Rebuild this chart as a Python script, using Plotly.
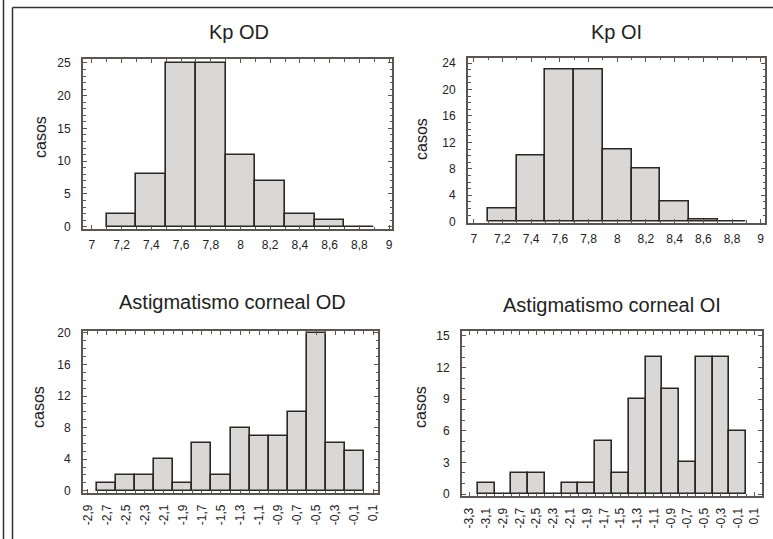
import plotly.graph_objects as go

# ---------------- data ----------------
kp_centers = [7.2, 7.4, 7.6, 7.8, 8.0, 8.2, 8.4, 8.6, 8.8]
kp_od = [2, 8, 25, 25, 11, 7, 2, 1, 0]
kp_oi = [2, 10, 23, 23, 11, 8, 3, 0.3, 0]

kp_tickvals = [7.0, 7.2, 7.4, 7.6, 7.8, 8.0, 8.2, 8.4, 8.6, 8.8, 9.0]
kp_ticktext = ["7", "7,2", "7,4", "7,6", "7,8", "8", "8,2", "8,4", "8,6", "8,8", "9"]

ast_od_centers = [-2.7, -2.5, -2.3, -2.1, -1.9, -1.7, -1.5, -1.3, -1.1, -0.9, -0.7, -0.5, -0.3, -0.1]
ast_od = [1, 2, 2, 4, 1, 6, 2, 8, 7, 7, 10, 20, 6, 5]
ast_od_tickvals = [-2.9, -2.7, -2.5, -2.3, -2.1, -1.9, -1.7, -1.5, -1.3, -1.1, -0.9, -0.7, -0.5, -0.3, -0.1, 0.1]
ast_od_ticktext = ["-2,9", "-2,7", "-2,5", "-2,3", "-2,1", "-1,9", "-1,7", "-1,5", "-1,3", "-1,1",
                   "-0,9", "-0,7", "-0,5", "-0,3", "-0,1", "0,1"]

ast_oi_centers = [-3.1, -2.9, -2.7, -2.5, -2.3, -2.1, -1.9, -1.7, -1.5, -1.3, -1.1, -0.9, -0.7, -0.5, -0.3, -0.1]
ast_oi = [1, 0, 2, 2, 0, 1, 1, 5, 2, 9, 13, 10, 3, 13, 13, 6]
ast_oi_tickvals = [-3.3, -3.1, -2.9, -2.7, -2.5, -2.3, -2.1, -1.9, -1.7, -1.5, -1.3, -1.1, -0.9, -0.7, -0.5, -0.3, -0.1, 0.1]
ast_oi_ticktext = ["-3,3", "-3,1", "-2,9", "-2,7", "-2,5", "-2,3", "-2,1", "-1,9", "-1,7", "-1,5", "-1,3",
                   "-1,1", "-0,9", "-0,7", "-0,5", "-0,3", "-0,1", "0,1"]

titles = ["Kp OD", "Kp OI", "Astigmatismo corneal OD", "Astigmatismo corneal OI"]
ylabel = "casos"

# ---------------- styling ----------------
W, H = 773, 539
BAR_FILL = "#d9d8d6"
BAR_LINE = "#2b2727"
AXIS_COL = "#5c5555"
TEXT_COL = "#222222"
TICK_FONT = dict(family="Liberation Sans, Arial", size=12, color=TEXT_COL)

def px_x(p):
    return p / W

def px_y(p):
    return 1 - p / H

panels = [
    dict(c=kp_centers, v=kp_od, xd=(83, 392), yd=(59, 229), xr=[6.94, 9.02], yr=[-0.35, 25.6],
         ydt=5, tv=kp_tickvals, tt=kp_ticktext, ang=0),
    dict(c=kp_centers, v=kp_oi, xd=(468, 765), yd=(57.5, 222.7), xr=[6.96, 9.03], yr=[-0.15, 24.85],
         ydt=4, tv=kp_tickvals, tt=kp_ticktext, ang=0),
    dict(c=ast_od_centers, v=ast_od, xd=(83, 378), yd=(331, 492.7), xr=[-2.95, 0.15], yr=[-0.25, 20.25],
         ydt=4, tv=ast_od_tickvals, tt=ast_od_ticktext, ang=-90),
    dict(c=ast_oi_centers, v=ast_oi, xd=(462, 762), yd=(331, 496), xr=[-3.39, 0.19], yr=[-0.19, 15.47],
         ydt=3, tv=ast_oi_tickvals, tt=ast_oi_ticktext, ang=-90),
]

fig = go.Figure()
layout = dict(
    width=W, height=H,
    margin=dict(l=0, r=0, t=0, b=0, autoexpand=False),
    paper_bgcolor="white", plot_bgcolor="white",
    showlegend=False, bargap=0,
    font=dict(family="Liberation Sans, Arial", color=TEXT_COL),
)

annotations = []
title_pos = [(239, 32), (616, 32), (232, 302), (612, 305)]
ylab_pos = [(40, 137), (422, 139), (38, 407), (420, 407)]

for i, p in enumerate(panels):
    n = i + 1
    xa = "x" if n == 1 else f"x{n}"
    ya = "y" if n == 1 else f"y{n}"
    fig.add_trace(go.Bar(
        x=p["c"], y=p["v"], width=0.2, xaxis=xa, yaxis=ya,
        marker=dict(color=BAR_FILL, line=dict(color=BAR_LINE, width=1.6)),
        hoverinfo="x+y",
    ))
    common = dict(showline=True, linecolor=AXIS_COL, linewidth=2, mirror="allticks",
                  ticks="inside", ticklen=4, tickwidth=1.2, tickcolor=AXIS_COL,
                  showgrid=False, zeroline=False, tickfont=TICK_FONT, automargin=False)
    layout["xaxis" if n == 1 else f"xaxis{n}"] = dict(
        domain=[px_x(p["xd"][0]), px_x(p["xd"][1])], range=p["xr"], anchor=ya,
        tickmode="array", tickvals=p["tv"], ticktext=p["tt"], tickangle=p["ang"],
        ticklabelstandoff=4 if p["ang"] == 0 else 5,
        minor=dict(ticks="inside", ticklen=2.5, tickcolor=AXIS_COL, dtick=0.1, tick0=0, showgrid=False),
        **common)
    layout["yaxis" if n == 1 else f"yaxis{n}"] = dict(
        domain=[px_y(p["yd"][1]), px_y(p["yd"][0])], range=p["yr"], anchor=xa,
        tick0=0, dtick=p["ydt"], ticklabelstandoff=8,
        minor=dict(ticks="inside", ticklen=2.5, tickcolor=AXIS_COL, dtick=1, tick0=0, showgrid=False),
        **common)
    annotations.append(dict(text=titles[i], x=px_x(title_pos[i][0]), y=px_y(title_pos[i][1]),
                            xref="paper", yref="paper", showarrow=False, xanchor="center", yanchor="middle",
                            font=dict(family="Liberation Sans, Arial", size=20, color=TEXT_COL)))
    annotations.append(dict(text=ylabel, x=px_x(ylab_pos[i][0]), y=px_y(ylab_pos[i][1]),
                            xref="paper", yref="paper", showarrow=False, xanchor="center", yanchor="middle",
                            textangle=-90,
                            font=dict(family="Liberation Sans, Arial", size=16, color=TEXT_COL)))

layout["annotations"] = annotations
layout["shapes"] = [
    dict(type="line", xref="paper", yref="paper", x0=px_x(3.5), x1=px_x(3.5), y0=0, y1=1,
         line=dict(color="#333333", width=1.5)),
    dict(type="line", xref="paper", yref="paper", x0=px_x(12.5), x1=px_x(12.5), y0=0, y1=px_y(7.5),
         line=dict(color="#333333", width=1.5)),
    dict(type="line", xref="paper", yref="paper", x0=px_x(12.5), x1=1, y0=px_y(7.5), y1=px_y(7.5),
         line=dict(color="#333333", width=1.5)),
]
fig.update_layout(**layout)
fig.write_html("out.html", config={"displayModeBar": False},
               post_script="document.body.style.margin='0';document.body.style.overflow='hidden';")
